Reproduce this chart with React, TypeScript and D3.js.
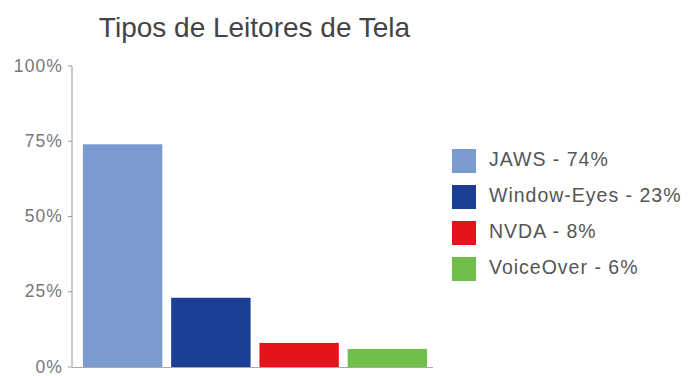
import React from "react";
import * as d3 from "d3";

const categories = ["JAWS", "Window-Eyes", "NVDA", "VoiceOver"];
const values = [74, 23, 8, 6];
const colors = ["#7b9bd0", "#1b3f94", "#e5141b", "#70bf4a"];
const yTicks = [0, 25, 50, 75, 100];
const title = "Tipos de Leitores de Tela";

export default function App() {
  const W = 690, H = 376;
  const x = d3.scaleBand<string>().domain(categories).range([78.5, 431.5]).paddingInner(0.1).paddingOuter(0.05);
  const y = d3.scaleLinear().domain([0, 100]).range([367, 66]);
  const font = "Helvetica, Arial, 'Liberation Sans', sans-serif";
  return (
    <svg width={W} height={H} style={{ position: "absolute", left: 0, top: 0, background: "#fff" }} fontFamily={font}>
      <rect x={0} y={0} width={W} height={H} fill="#fff" />
      <text x={254.5} y={37} textAnchor="middle" fontSize={28} fill="#444">{title}</text>
      {categories.map((c, i) => (
        <rect key={c} x={x(c)} y={y(values[i])} width={x.bandwidth()} height={y(0) - y(values[i])} fill={colors[i]} />
      ))}
      <line x1={72} x2={72} y1={y(100)} y2={y(0)} stroke="#999" strokeWidth={1} />
      <line x1={72} x2={433} y1={y(0) + 0.5} y2={y(0) + 0.5} stroke="#aaa" strokeWidth={1} />
      {yTicks.map(t => (
        <g key={t}>
          <line x1={68} x2={72} y1={y(t)} y2={y(t)} stroke="#999" />
          <text x={63} y={y(t) + 5.5} textAnchor="end" fontSize={17.5} letterSpacing={1.1} fill="#777">{t}%</text>
        </g>
      ))}
      {categories.map((c, i) => (
        <g key={"l" + c} transform={`translate(452, ${149 + i * 36})`}>
          <rect x={0} y={0} width={24} height={24} fill={colors[i]} />
          <text x={37} y={17} fontSize={19.5} letterSpacing={1.0} fill="#555">{`${c} - ${values[i]}%`}</text>
        </g>
      ))}
    </svg>
  );
}
